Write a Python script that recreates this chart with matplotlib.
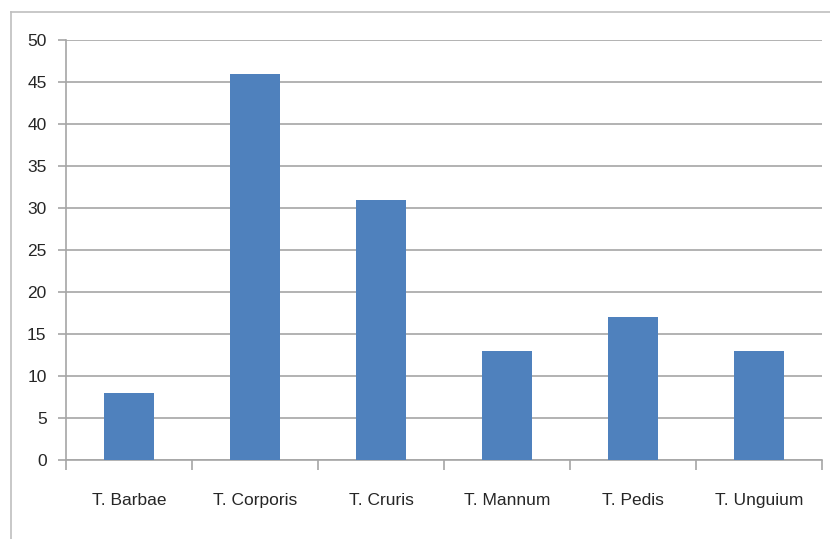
import matplotlib.pyplot as plt
from matplotlib.lines import Line2D
import numpy as np

categories = ["T. Barbae", "T. Corporis", "T. Cruris", "T. Mannum", "T. Pedis", "T. Unguium"]
values = [8, 46, 31, 13, 17, 13]
y_ticks = [0, 5, 10, 15, 20, 25, 30, 35, 40, 45, 50]

BAR = "#4F81BD"
GRID = "#A6A6A6"
TEXT = "#262626"

plt.rcParams["font.family"] = ["Liberation Sans Narrow", "Liberation Sans", "DejaVu Sans"]

fig = plt.figure(figsize=(8.3, 5.39), dpi=100)
ax = fig.add_axes([66 / 830, 1 - 460 / 539, (822 - 66) / 830, (460 - 40) / 539])

x = np.arange(len(categories)) + 0.5
ax.bar(x, values, width=0.4, color=BAR, zorder=3)

ax.set_xlim(0, len(categories))
ax.set_ylim(0, 50)
ax.set_yticks(y_ticks)
ax.yaxis.grid(True, color=GRID, linewidth=1.2, zorder=0)
ax.tick_params(axis="y", length=6, width=1.2, color=GRID, labelcolor=TEXT, labelsize=12.5, pad=8)

ax.set_xticks(np.arange(len(categories) + 1))
ax.set_xticklabels([])
ax.set_xticks(x, minor=True)
ax.set_xticklabels(categories, minor=True)
ax.tick_params(axis="x", which="major", length=7, width=1.2, color=GRID)
ax.tick_params(axis="x", which="minor", length=0, labelsize=12.5, labelcolor=TEXT, pad=24)

for s in ["top", "right"]:
    ax.spines[s].set_visible(False)
for s in ["left", "bottom"]:
    ax.spines[s].set_color(GRID)
    ax.spines[s].set_linewidth(1.2)

# outer chart frame (top and left edges visible)
fx = 11 / 830
fy = 1 - 12 / 539
fig.add_artist(Line2D([fx, 1], [fy, fy], color="#BFBFBF", linewidth=1.2, transform=fig.transFigure))
fig.add_artist(Line2D([fx, fx], [0, fy], color="#BFBFBF", linewidth=1.2, transform=fig.transFigure))

fig.savefig("out.png", dpi=100)
